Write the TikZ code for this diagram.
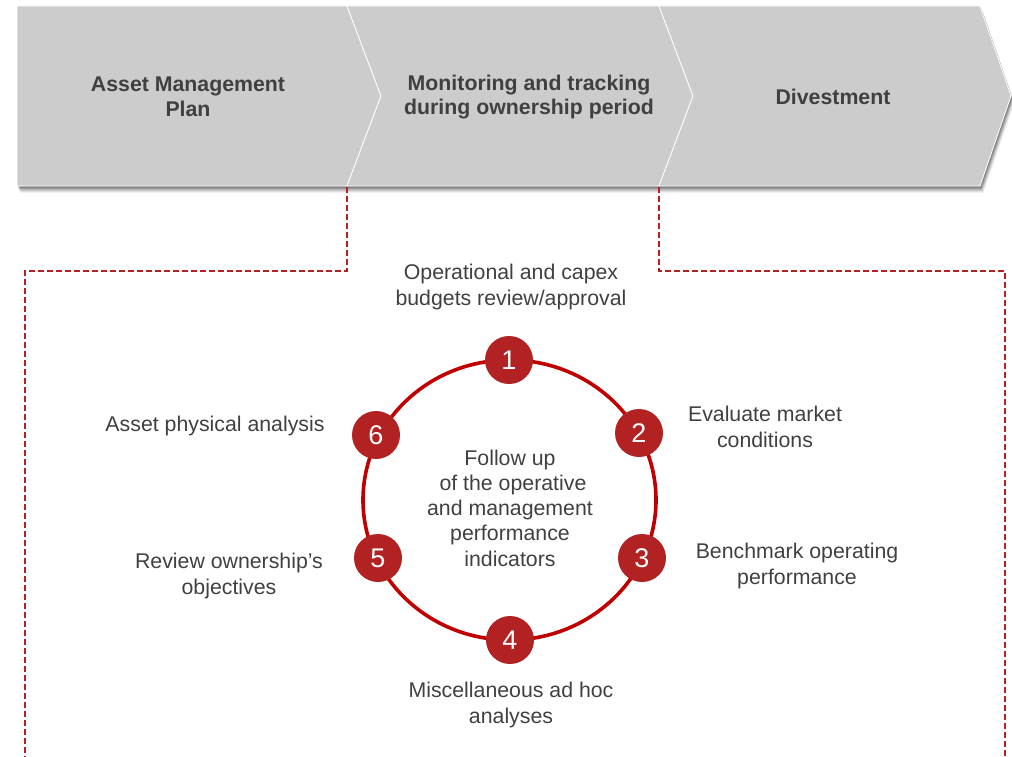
\documentclass[tikz,border=0pt]{standalone}
\usepackage{fontspec}
\setmainfont{Liberation Sans}
\definecolor{chev}{RGB}{204,204,204}
\definecolor{txt}{RGB}{64,64,64}
\definecolor{dred}{RGB}{178,34,34}
\definecolor{ring}{RGB}{192,0,0}
\begin{document}
\begin{tikzpicture}[x=1pt,y=-1pt,
  chevshape/.style={fill=chev,draw=white,line width=0.8pt},
  title/.style={text=txt,font=\fontsize{21.3}{24.5}\selectfont\bfseries,align=center},
  lbl/.style={text=txt,font=\fontsize{21.3}{26}\selectfont,align=center},
  num/.style={circle,fill=dred,minimum size=48pt,inner sep=0pt,text=white,font=\fontsize{27}{27}\selectfont},
  dashline/.style={draw=dred,line width=1.4pt,dash pattern=on 6pt off 3pt}]
\useasboundingbox (0,0) rectangle (1012,757);
% shadow
\foreach \o/\a in {7/0.05,6/0.07,5/0.09,4/0.11,3/0.13,2/0.16}{
  \fill[black,opacity=\a] (17+\o/2,6+\o) -- (980+\o/2,6+\o) -- (1011+\o/2,96+\o) -- (980+\o/2,186+\o) -- (17+\o/2,186+\o) -- cycle;
}
% chevrons
\path[chevshape] (17,6) -- (347,6) -- (381,96) -- (347,186) -- (17,186) -- cycle;
\path[chevshape] (347,6) -- (659,6) -- (693,96) -- (659,186) -- (347,186) -- (381,96) -- cycle;
\path[chevshape] (659,6) -- (980,6) -- (1011,96) -- (980,186) -- (659,186) -- (693,96) -- cycle;
\node[title] (t1) at (188,97) {Asset Management\\Plan};
\node[title] (t2) at (529,97) {Monitoring and tracking\\during ownership period};
\node[title] (t3) at (833,97) {Divestment};
% dashed brackets
\coordinate (la) at (347,187);
\coordinate (lb) at (347,271);
\coordinate (lc) at (25,271);
\coordinate (ld) at (25,757);
\coordinate (ra) at (659,187);
\coordinate (rb) at (659,271);
\coordinate (rc) at (1005,271);
\coordinate (rd) at (1005,757);
\draw[dashline] (la) -- (lb) -- (lc) -- (ld);
\draw[dashline] (ra) -- (rb) -- (rc) -- (rd);
% ring
\coordinate (c) at (509.5,500);
\draw[ring,line width=3.6pt] (c) ellipse [x radius=146.5, y radius=140];
\node[num] (n1) at (509,360) {1};
\node[num] (n2) at (639,433) {2};
\node[num] (n3) at (642,558) {3};
\node[num] (n4) at (510,640) {4};
\node[num] (n5) at (378,558) {5};
\node[num] (n6) at (376,435) {6};
\node[lbl,font=\fontsize{21.3}{25.3}\selectfont] (ctr) at (510,508) {Follow up\\\ of the operative\\and management\\performance\\indicators};
\node[lbl] (l1) at (511,287) {Operational and capex\\budgets review/approval};
\node[lbl] (l2) at (765,427) {Evaluate market\\conditions};
\node[lbl] (l3) at (797,566) {Benchmark operating\\performance};
\node[lbl] (l4) at (511,705) {Miscellaneous ad hoc\\analyses};
\node[lbl] (l5) at (229,576) {Review ownership’s\\objectives};
\node[lbl] (l6) at (215,426) {Asset physical analysis};
\end{tikzpicture}
\end{document}
